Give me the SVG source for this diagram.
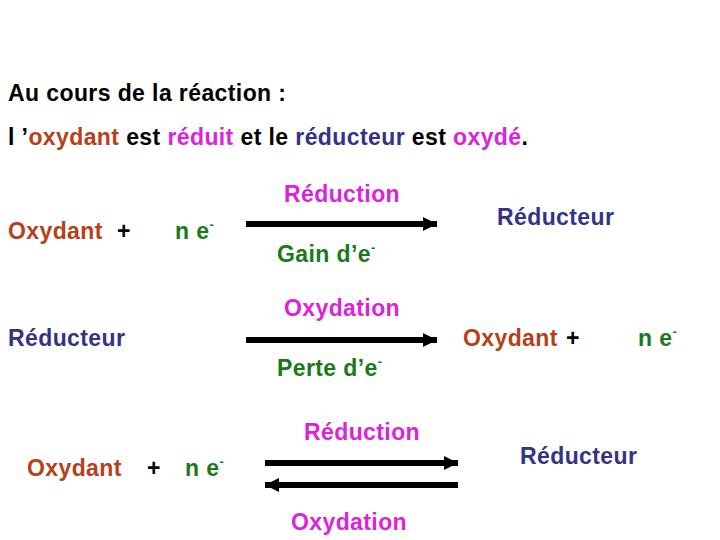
<svg xmlns="http://www.w3.org/2000/svg" width="720" height="540" viewBox="0 0 720 540">
<style>
text{font-family:"Liberation Sans",Arial,sans-serif;font-weight:bold;font-size:23px;letter-spacing:0.4px}
.k{fill:#000}.ox{fill:#B5401A}.mg{fill:#DD22DD}.nv{fill:#333388}.gr{fill:#1A7A1A}
.sup{font-size:13px}
.ln{stroke:#000;stroke-width:6;fill:none}
</style>
<defs>
<marker id="ah" markerUnits="userSpaceOnUse" markerWidth="16" markerHeight="16" viewBox="0 0 16 16" refX="14" refY="8" orient="auto"><path d="M0,1 L14,8 L0,15 Z" fill="#000"/></marker>
</defs>
<rect width="720" height="540" fill="#fff"/>
<g id="title">
<text x="8" y="101" class="k">Au cours de la réaction :</text>
<text x="8" y="145" class="k">l ’<tspan class="ox">oxydant</tspan> est <tspan class="mg">réduit</tspan> et le <tspan class="nv">réducteur</tspan> est <tspan class="mg">oxydé</tspan>.</text>
</g>
<g id="connectors">
<line class="ln" x1="246" y1="224" x2="437" y2="224" marker-end="url(#ah)"/>
<line class="ln" x1="246" y1="340" x2="437" y2="340" marker-end="url(#ah)"/>
<line class="ln" x1="265" y1="463" x2="458" y2="463" marker-end="url(#ah)"/>
<line class="ln" x1="458" y1="485" x2="265" y2="485" marker-end="url(#ah)"/>
</g>
<g id="row1">
<text x="8" y="239" class="ox">Oxydant</text>
<text x="117" y="239" class="k">+</text>
<text x="175" y="239" class="gr">n e<tspan class="sup" dy="-10">-</tspan></text>
<text x="284" y="202" class="mg">Réduction</text>
<text x="277" y="262" class="gr">Gain d’e<tspan class="sup" dy="-10">-</tspan></text>
<text x="497" y="225" class="nv">Réducteur</text>
</g>
<g id="row2">
<text x="8" y="346" class="nv">Réducteur</text>
<text x="284" y="316" class="mg">Oxydation</text>
<text x="277" y="376" class="gr">Perte d’e<tspan class="sup" dy="-10">-</tspan></text>
<text x="463" y="346" class="ox">Oxydant</text>
<text x="566" y="346" class="k">+</text>
<text x="638" y="346" class="gr">n e<tspan class="sup" dy="-10">-</tspan></text>
</g>
<g id="row3">
<text x="27" y="476" class="ox">Oxydant</text>
<text x="147" y="476" class="k">+</text>
<text x="185" y="476" class="gr">n e<tspan class="sup" dy="-10">-</tspan></text>
<text x="304" y="440" class="mg">Réduction</text>
<text x="520" y="464" class="nv">Réducteur</text>
<text x="291" y="530" class="mg">Oxydation</text>
</g>
</svg>
